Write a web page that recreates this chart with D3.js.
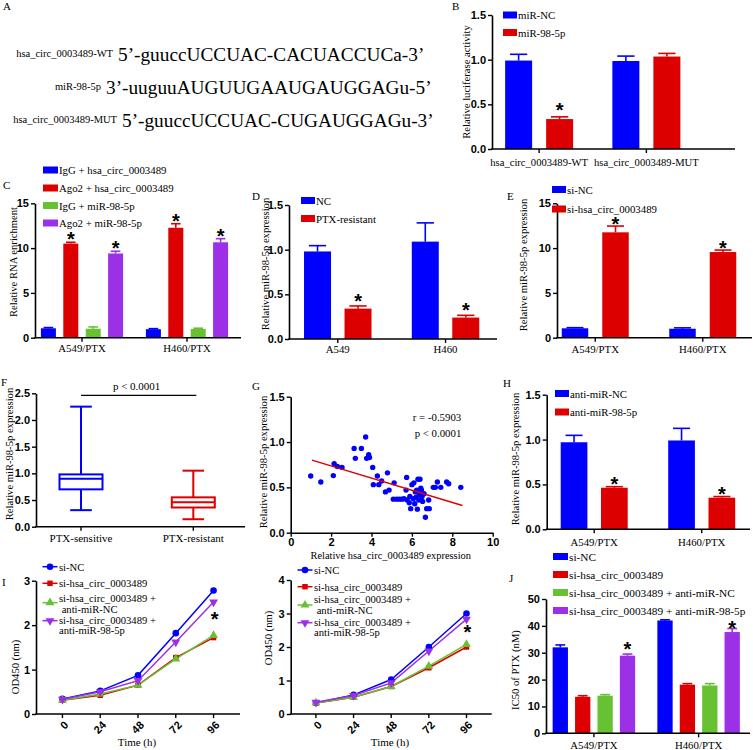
<!DOCTYPE html>
<html><head><meta charset="utf-8">
<script src="https://cdn.jsdelivr.net/npm/d3@7"></script>
<style>
body{margin:0;background:#fff;}
svg{display:block;}
</style></head><body>
<svg id="fig" width="753" height="750"></svg>
<script>
// ---------------- DATA ----------------
// Panel A
const seqLabels = ["hsa_circ_0003489-WT", "miR-98-5p", "hsa_circ_0003489-MUT"];
const seqTexts = ["5’-guuccUCCUAC-CACUACCUCa-3’", "3’-uuguuAUGUUGAAUGAUGGAGu-5’", "5’-guuccUCCUAC-CUGAUGGAGu-3’"];

// Panel B
const bGroups = ["hsa_circ_0003489-WT", "hsa_circ_0003489-MUT"];
const bSeries = ["miR-NC", "miR-98-5p"];
const bValues = [[0.99, 0.335], [0.985, 1.035]];
const bErrors = [[0.07, 0.025], [0.055, 0.035]];
const bStars = [[0, 1], [0, 0]];
const bTicks = [0, 0.5, 1.0, 1.5];

// Panel C
const cGroups = ["A549/PTX", "H460/PTX"];
const cSeries = ["IgG + hsa_circ_0003489", "Ago2 + hsa_circ_0003489", "IgG + miR-98-5p", "Ago2 + miR-98-5p"];
const cValues = [[1.05, 10.5, 1.0, 9.4], [0.95, 12.27, 0.98, 10.65]];
const cErrors = [[0.08, 0.15, 0.2, 0.25], [0.06, 0.45, 0.08, 0.4]];
const cStars = [[0, 1, 0, 1], [0, 1, 0, 1]];
const cTicks = [0, 5, 10, 15];

// Panel D
const dGroups = ["A549", "H460"];
const dSeries = ["NC", "PTX-resistant"];
const dValues = [[0.98, 0.34], [1.09, 0.24]];
const dErrors = [[0.065, 0.03], [0.21, 0.025]];
const dStars = [[0, 1], [0, 1]];
const dTicks = [0, 0.5, 1.0, 1.5];

// Panel E
const eGroups = ["A549/PTX", "H460/PTX"];
const eSeries = ["si-NC", "si-hsa_circ_0003489"];
const eValues = [[1.05, 11.76], [1.0, 9.56]];
const eErrors = [[0.07, 0.7], [0.1, 0.22]];
const eStars = [[0, 1], [0, 1]];
const eTicks = [0, 5, 10, 15];

// Panel F (box plot: min, q1, median, q3, max)
const fGroups = ["PTX-sensitive", "PTX-resistant"];
const fStats = [[0.31, 0.70, 0.90, 0.98, 2.25], [0.14, 0.36, 0.46, 0.55, 1.05]];
const fTicks = [0, 0.5, 1.0, 1.5, 2.0, 2.5];
const fPText = "p < 0.0001";

// Panel G (scatter)
const gX = [0.99,1.49,2.11,2.15,2.31,2.54,3.14,3.2,3.5,3.71,3.76,3.86,3.9,4.06,4.09,4.29,4.36,4.5,4.69,4.79,4.87,5.08,5.12,5.25,5.38,5.5,5.61,5.71,5.74,5.77,5.87,5.9,5.94,6.0,6.07,6.1,6.14,6.17,6.2,6.24,6.27,6.3,6.34,6.37,6.4,6.44,6.47,6.5,6.53,6.6,6.67,6.73,6.83,6.86,7.06,7.16,7.26,7.43,7.72,7.82,8.42];
const gY = [0.625,0.56,0.63,0.76,0.73,0.72,0.93,0.82,0.93,1.055,0.82,0.86,0.83,0.72,0.53,0.625,0.53,0.57,0.45,0.66,0.47,0.37,0.55,0.37,0.37,0.37,0.375,0.47,0.61,0.36,0.33,0.40,0.265,0.53,0.375,0.55,0.32,0.45,0.39,0.47,0.26,0.59,0.36,0.42,0.59,0.49,0.47,0.40,0.345,0.43,0.17,0.265,0.36,0.265,0.5,0.5,0.56,0.5,0.56,0.54,0.5];
const gFitX = [1.05, 8.5];
const gFitY = [0.80, 0.30];
const gXTicks = [0, 2, 4, 6, 8, 10];
const gYTicks = [0, 0.5, 1.0, 1.5];
const gStatText = ["r = -0.5903", "p < 0.0001"];

// Panel H
const hGroups = ["A549/PTX", "H460/PTX"];
const hSeries = ["anti-miR-NC", "anti-miR-98-5p"];
const hValues = [[0.97, 0.463], [0.99, 0.352]];
const hErrors = [[0.077, 0.012], [0.135, 0.013]];
const hStars = [[0, 1], [0, 1]];
const hTicks = [0, 0.5, 1.0, 1.5];

// Panel I (growth curves)
const iTimes = ["0", "24", "48", "72", "96"];
const iSeries = ["si-NC", "si-hsa_circ_0003489", "si-hsa_circ_0003489 +| anti-miR-NC", "si-hsa_circ_0003489 +|anti-miR-98-5p"];
const iLeftValues = [[0.34,0.52,0.87,1.82,2.78],[0.31,0.42,0.65,1.27,1.72],[0.31,0.45,0.65,1.24,1.77],[0.33,0.50,0.75,1.62,2.52]];
const iRightValues = [[0.33,0.57,1.03,2.0,3.0],[0.33,0.5,0.82,1.38,2.0],[0.33,0.5,0.82,1.43,2.08],[0.35,0.55,0.93,1.88,2.83]];
const iLeftTicks = [0, 1, 2, 3];
const iRightTicks = [0, 1, 2, 3, 4];

// Panel J
const jGroups = ["A549/PTX", "H460/PTX"];
const jSeries = ["si-NC", "si-hsa_circ_0003489", "si-hsa_circ_0003489 + anti-miR-NC", "si-hsa_circ_0003489 + anti-miR-98-5p"];
const jValues = [[32, 13.6, 14.0, 28.9], [42, 18.1, 17.8, 37.7]];
const jErrors = [[0.9, 0.4, 0.4, 0.6], [0.25, 0.4, 0.7, 1.3]];
const jStars = [[0, 0, 0, 1], [0, 0, 0, 1]];
const jTicks = [0, 10, 20, 30, 40, 50];

// ---------------- STYLE ----------------
const SERIF = '"Liberation Serif","Times New Roman",serif';
const SANS = '"Liberation Sans",Arial,sans-serif';
const COL = {blue: "#0000ff", red: "#dd0000", green: "#66c233", purple: "#9b30e6"};
const svg = d3.select("#fig");

function text(g, x, y, s, o = {}) {
  return g.append("text").attr("x", x).attr("y", y).text(s)
    .attr("font-family", o.family || SERIF)
    .attr("font-size", o.size || 11)
    .attr("font-weight", o.weight || "normal")
    .attr("text-anchor", o.anchor || "start")
    .attr("fill", o.fill || "#000");
}
function styleAxis(sel) {
  sel.select(".domain").attr("stroke", "#000").attr("stroke-width", 1.6);
  sel.selectAll(".tick line").attr("stroke", "#000").attr("stroke-width", 1.4);
  sel.selectAll(".tick text").attr("font-family", SANS).attr("font-weight", "bold")
    .attr("font-size", 11).attr("fill", "#000");
}
function yTitle(g, x, y, s, size = 10.6) {
  g.append("text").attr("transform", `translate(${x + 4},${y}) rotate(-90)`)
    .attr("text-anchor", "middle").attr("font-family", SERIF).attr("font-size", size).text(s);
}
function star(g, x, yc) {
  text(g, x, yc + 11, "*", {family: SANS, weight: "bold", size: 20, anchor: "middle"});
}
function panelLabel(x, y, s) { text(svg, x, y, s, {size: 11}); }

// ---------------- PANEL A ----------------
const seqBase = [61, 94, 127];
const seqStart = [118, 106, 122];
seqTexts.forEach((s, i) => {
  text(svg, seqStart[i], seqBase[i], s, {size: 19.3});
  text(svg, seqStart[i] - 5, seqBase[i] - 4, seqLabels[i], {size: 10.5, anchor: "end"});
});
panelLabel(3, 10, "A");

// ---------------- BAR PANELS ----------------
function barPanel(cfg) {
  const g = svg.append("g");
  const y = d3.scaleLinear().domain([0, cfg.yMax]).range([cfg.yBottom, cfg.yTop]);
  const x0 = d3.scaleBand().domain(cfg.groups).range(cfg.groupRange);
  const n = cfg.series.length;
  const pi = 1 - cfg.barW / cfg.barStep;
  const c = x0.bandwidth() / 2;
  const x1 = d3.scaleBand().domain(cfg.series)
    .range([c - n * cfg.barStep / 2, c + n * cfg.barStep / 2])
    .paddingInner(pi).paddingOuter(pi / 2);
  const bw = x1.bandwidth();
  cfg.groups.forEach((grp, gi) => {
    cfg.series.forEach((s, si) => {
      const v = cfg.values[gi][si], e = cfg.errors[gi][si];
      const bx = x0(grp) + x1(s), cx = bx + bw / 2, col = cfg.colors[si];
      g.append("line").attr("x1", cx).attr("x2", cx).attr("y1", y(v)).attr("y2", y(v + e))
        .attr("stroke", col).attr("stroke-width", 1.6);
      g.append("line").attr("x1", cx - bw * 0.32).attr("x2", cx + bw * 0.32)
        .attr("y1", y(v + e)).attr("y2", y(v + e)).attr("stroke", col).attr("stroke-width", 1.6);
      g.append("rect").attr("x", bx).attr("y", y(v)).attr("width", bw)
        .attr("height", y(0) - y(v)).attr("fill", col);
      if (cfg.stars[gi][si]) star(g, cx, y(v + e) - cfg.starOff[gi]);
    });
  });
  // y axis
  const ya = g.append("g").attr("transform", `translate(${cfg.axisX},0)`)
    .call(d3.axisLeft(y).tickValues(cfg.ticks).tickFormat(d3.format(cfg.fmt)).tickSize(4).tickPadding(2).tickSizeOuter(0));
  styleAxis(ya);
  // x axis
  g.append("line").attr("x1", cfg.axisX - 0.8).attr("x2", cfg.xEnd).attr("y1", y(0)).attr("y2", y(0))
    .attr("stroke", "#000").attr("stroke-width", 1.6);
  cfg.groups.forEach(grp => {
    const gx = x0(grp) + x0.bandwidth() / 2;
    g.append("line").attr("x1", gx).attr("x2", gx).attr("y1", y(0)).attr("y2", y(0) + 4)
      .attr("stroke", "#000").attr("stroke-width", 1.4);
    text(g, gx, cfg.labelY, grp, {size: cfg.catSize || 10.8, anchor: "middle"});
  });
  yTitle(g, cfg.titleX, cfg.titleY, cfg.title);
  // legend
  cfg.series.forEach((s, si) => {
    const ly = cfg.legend.ys[si];
    g.append("rect").attr("x", cfg.legend.x).attr("y", ly - 3.5).attr("width", cfg.legend.w).attr("height", 7)
      .attr("fill", cfg.colors[si]);
    text(g, cfg.legend.x + cfg.legend.w + 1, ly + 4, s, {size: cfg.legend.size || 10.8});
  });
  panelLabel(cfg.label[0], cfg.label[1], cfg.label[2]);
}

barPanel({groups: bGroups, series: bSeries, values: bValues, errors: bErrors, stars: bStars, starOff: [11, 11],
  colors: [COL.blue, COL.red], yMax: 1.5, ticks: bTicks, fmt: ".1f", axisX: 492, yBottom: 149, yTop: 15,
  xEnd: 735, groupRange: [485.5, 700], barStep: 41, barW: 27, labelY: 166, catSize: 10.6,
  title: "Relative luciferase activity", titleX: 466, titleY: 82,
  legend: {x: 503, ys: [15, 32.5], w: 14}, label: [452, 10, "B"]});

barPanel({groups: cGroups, series: cSeries, values: cValues, errors: cErrors, stars: cStars, starOff: [7, 6.5],
  colors: [COL.blue, COL.red, COL.green, COL.purple], yMax: 15, ticks: cTicks, fmt: "d", axisX: 35,
  yBottom: 337.7, yTop: 203.3, xEnd: 241, groupRange: [29.5, 239.5], barStep: 22.4, barW: 15, labelY: 352,
  title: "Relative RNA enrichment", titleX: 13, titleY: 262,
  legend: {x: 43, ys: [170, 188, 205.5, 223], w: 15}, label: [3, 189, "C"]});

barPanel({groups: dGroups, series: dSeries, values: dValues, errors: dErrors, stars: dStars, starOff: [9, 9.5],
  colors: [COL.blue, COL.red], yMax: 1.5, ticks: dTicks, fmt: ".1f", axisX: 289, yBottom: 339, yTop: 205,
  xEnd: 497, groupRange: [283.9, 499.4], barStep: 40.5, barW: 27, labelY: 353,
  title: "Relative miR-98-5p expression", titleX: 265, titleY: 264,
  legend: {x: 301, ys: [200.5, 218.5], w: 14}, label: [252, 200, "D"]});

barPanel({groups: eGroups, series: eSeries, values: eValues, errors: eErrors, stars: eStars, starOff: [6, 6],
  colors: [COL.blue, COL.red], yMax: 15, ticks: eTicks, fmt: "d", axisX: 557, yBottom: 337.7, yTop: 203.3,
  xEnd: 752, groupRange: [541.5, 756.5], barStep: 40.5, barW: 26.5, labelY: 353,
  title: "Relative miR-98-5p expression", titleX: 523, titleY: 265,
  legend: {x: 552, ys: [189.5, 209], w: 14}, label: [507, 200, "E"]});

barPanel({groups: hGroups, series: hSeries, values: hValues, errors: hErrors, stars: hStars, starOff: [7, 7],
  colors: [COL.blue, COL.red], yMax: 1.5, ticks: hTicks, fmt: ".1f", axisX: 546.7, yBottom: 529.3, yTop: 394.7,
  xEnd: 750, groupRange: [540.45, 755.45], barStep: 40.3, barW: 26.7, labelY: 545.5,
  title: "Relative miR-98-5p expression", titleX: 515, titleY: 459,
  legend: {x: 555, ys: [393.5, 412], w: 14}, label: [503, 387, "H"]});

barPanel({groups: jGroups, series: jSeries, values: jValues, errors: jErrors, stars: jStars, starOff: [9, 5],
  colors: [COL.blue, COL.red, COL.green, COL.purple], yMax: 50, ticks: jTicks, fmt: "d", axisX: 546,
  yBottom: 733.3, yTop: 599, xEnd: 750, groupRange: [541.55, 750.95], barStep: 22.4, barW: 15.3, labelY: 748.5,
  title: "IC50 of PTX (nM)", titleX: 515, titleY: 670,
  legend: {x: 553, ys: [556.5, 574.5, 592.5, 610.5], w: 15, size: 11.3}, label: [509, 582, "J"]});

// ---------------- PANEL F (box plot) ----------------
(function () {
  const g = svg.append("g");
  const y = d3.scaleLinear().domain([0, 2.5]).range([526.7, 393.3]);
  const x = d3.scaleBand().domain(fGroups).range([24.85, 249.45]);
  const cols = [COL.blue, COL.red];
  const boxW = 43, capW = 21.6;
  fGroups.forEach((grp, i) => {
    const [mn, q1, md, q3, mx] = fStats[i];
    const cx = x(grp) + x.bandwidth() / 2, col = cols[i];
    const L = (x1, y1, x2, y2) => g.append("line").attr("x1", x1).attr("y1", y1).attr("x2", x2).attr("y2", y2)
      .attr("stroke", col).attr("stroke-width", 2);
    L(cx, y(mx), cx, y(q3)); L(cx, y(q1), cx, y(mn));
    L(cx - capW / 2, y(mx), cx + capW / 2, y(mx)); L(cx - capW / 2, y(mn), cx + capW / 2, y(mn));
    g.append("rect").attr("x", cx - boxW / 2).attr("y", y(q3)).attr("width", boxW).attr("height", y(q1) - y(q3))
      .attr("fill", "none").attr("stroke", col).attr("stroke-width", 2);
    L(cx - boxW / 2, y(md), cx + boxW / 2, y(md));
  });
  const ya = g.append("g").attr("transform", "translate(36,0)")
    .call(d3.axisLeft(y).tickValues(fTicks).tickFormat(d3.format(".1f")).tickSize(4).tickPadding(2).tickSizeOuter(0));
  styleAxis(ya);
  g.append("line").attr("x1", 35.2).attr("x2", 245).attr("y1", y(0)).attr("y2", y(0)).attr("stroke", "#000").attr("stroke-width", 1.6);
  fGroups.forEach(grp => {
    const gx = x(grp) + x.bandwidth() / 2;
    g.append("line").attr("x1", gx).attr("x2", gx).attr("y1", y(0)).attr("y2", y(0) + 4).attr("stroke", "#000").attr("stroke-width", 1.4);
    text(g, gx, 541.5, grp, {size: 11, anchor: "middle"});
  });
  const x1 = x(fGroups[0]) + x.bandwidth() / 2, x2 = x(fGroups[1]) + x.bandwidth() / 2;
  g.append("line").attr("x1", x1).attr("x2", x2 + 3).attr("y1", 395.3).attr("y2", 395.3).attr("stroke", "#000").attr("stroke-width", 1.2);
  text(g, (x1 + x2) / 2 - 0.5, 390, fPText, {size: 11, anchor: "middle"});
  yTitle(g, 8.5, 454, "Relative miR-98-5p expression");
  panelLabel(1, 385.5, "F");
})();

// ---------------- PANEL G (scatter) ----------------
(function () {
  const g = svg.append("g");
  const x = d3.scaleLinear().domain([0, 10]).range([290.7, 492.7]);
  const y = d3.scaleLinear().domain([0, 1.5]).range([532.7, 396.7]);
  g.selectAll("circle").data(gX).join("circle")
    .attr("cx", d => x(d)).attr("cy", (d, i) => y(gY[i])).attr("r", 2.7).attr("fill", COL.blue);
  g.append("line").attr("x1", x(gFitX[0])).attr("y1", y(gFitY[0])).attr("x2", x(gFitX[1])).attr("y2", y(gFitY[1]))
    .attr("stroke", COL.red).attr("stroke-width", 1.4);
  const ya = g.append("g").attr("transform", `translate(${x(0)},0)`)
    .call(d3.axisLeft(y).tickValues(gYTicks).tickFormat(d3.format(".1f")).tickSize(4).tickPadding(2).tickSizeOuter(0));
  styleAxis(ya);
  const xa = g.append("g").attr("transform", `translate(0,${y(0)})`)
    .call(d3.axisBottom(x).tickValues(gXTicks).tickFormat(d3.format("d")).tickSize(4).tickPadding(2).tickSizeOuter(0));
  styleAxis(xa);
  text(g, 437, 421, gStatText[0], {size: 10.8, anchor: "middle"});
  text(g, 438, 437, gStatText[1], {size: 10.8, anchor: "middle"});
  text(g, x(5) - 1, 559, "Relative hsa_circ_0003489 expression", {size: 10.4, anchor: "middle"});
  yTitle(g, 263.3, 462, "Relative miR-98-5p expression");
  panelLabel(252, 390, "G");
})();

// ---------------- PANEL I (growth curves) ----------------
const iColors = [COL.blue, COL.red, COL.green, COL.purple];
const iSymbols = [d3.symbolCircle, d3.symbolSquare, d3.symbolTriangle, d3.symbolTriangle];
const iSymSize = [34, 30, 34, 34];
const iSymRot = [0, 0, 0, 180];
function marker(g, x, y, si) {
  g.append("path").attr("d", d3.symbol(iSymbols[si], iSymSize[si])())
    .attr("transform", `translate(${x},${y}) rotate(${iSymRot[si]})`).attr("fill", iColors[si]);
}
function linePanel(cfg) {
  const g = svg.append("g");
  const x = d3.scalePoint().domain(iTimes).range([cfg.axisX, cfg.xEnd]).padding(cfg.pad);
  const y = d3.scaleLinear().domain([0, cfg.yMax]).range([714, cfg.yTop]);
  const line = d3.line().x((d, i) => x(iTimes[i])).y(d => y(d));
  cfg.values.forEach((vals, si) => {
    g.append("path").attr("d", line(vals)).attr("fill", "none").attr("stroke", iColors[si]).attr("stroke-width", 1.5);
  });
  cfg.values.forEach((vals, si) => {
    vals.forEach((v, i) => marker(g, x(iTimes[i]), y(v), si));
  });
  const ya = g.append("g").attr("transform", `translate(${cfg.axisX},0)`)
    .call(d3.axisLeft(y).tickValues(cfg.ticks).tickFormat(d3.format("d")).tickSize(4).tickPadding(2).tickSizeOuter(0));
  styleAxis(ya);
  g.append("line").attr("x1", cfg.axisX - 0.8).attr("x2", cfg.xEnd).attr("y1", y(0)).attr("y2", y(0))
    .attr("stroke", "#000").attr("stroke-width", 1.6);
  iTimes.forEach(t => {
    const tx = x(t);
    g.append("line").attr("x1", tx).attr("x2", tx).attr("y1", y(0)).attr("y2", y(0) + 4).attr("stroke", "#000").attr("stroke-width", 1.4);
    g.append("text").attr("transform", `translate(${tx + 4},${y(0) + 9}) rotate(-45)`)
      .attr("text-anchor", "end").attr("dy", "0.35em").attr("font-family", SANS).attr("font-weight", "bold")
      .attr("font-size", 11).text(t);
  });
  star(g, x(iTimes[4]) + 1, cfg.starY);
  text(g, cfg.timeX, 746, "Time (h)", {size: 11, anchor: "middle"});
  yTitle(g, cfg.titleX, cfg.titleY, "OD450  (nm)");
  // legend
  iSeries.forEach((s, si) => {
    const lines = s.split("|");
    const ly = cfg.legRows[si];
    g.append("line").attr("x1", cfg.legX - 7.5).attr("x2", cfg.legX + 7.5).attr("y1", cfg.legMark[si]).attr("y2", cfg.legMark[si])
      .attr("stroke", iColors[si]).attr("stroke-width", 1.5);
    marker(g, cfg.legX, cfg.legMark[si], si);
    lines.forEach((ln, k) => text(g, cfg.legX + 9, ly + 4 + k * 10.3, ln, {size: 10.6}).attr("xml:space", "preserve"));
  });
}
linePanel({values: iLeftValues, ticks: iLeftTicks, yMax: 3, yTop: 580.7, axisX: 36, xEnd: 240, pad: 0.7,
  starY: 615, timeX: 137, titleX: 15, titleY: 667, legX: 50,
  legRows: [566.7, 583.3, 598.3, 620], legMark: [566.7, 583.3, 602.7, 620.7]});
linePanel({values: iRightValues, ticks: iRightTicks, yMax: 4, yTop: 580, axisX: 290.7, xEnd: 491.7, pad: 0.67,
  starY: 628, timeX: 390, titleX: 268, titleY: 638, legX: 305,
  legRows: [570, 586.7, 599.3, 621.7], legMark: [570, 586.7, 605, 622.7]});
panelLabel(2, 586, "I");
</script>
</body></html>
